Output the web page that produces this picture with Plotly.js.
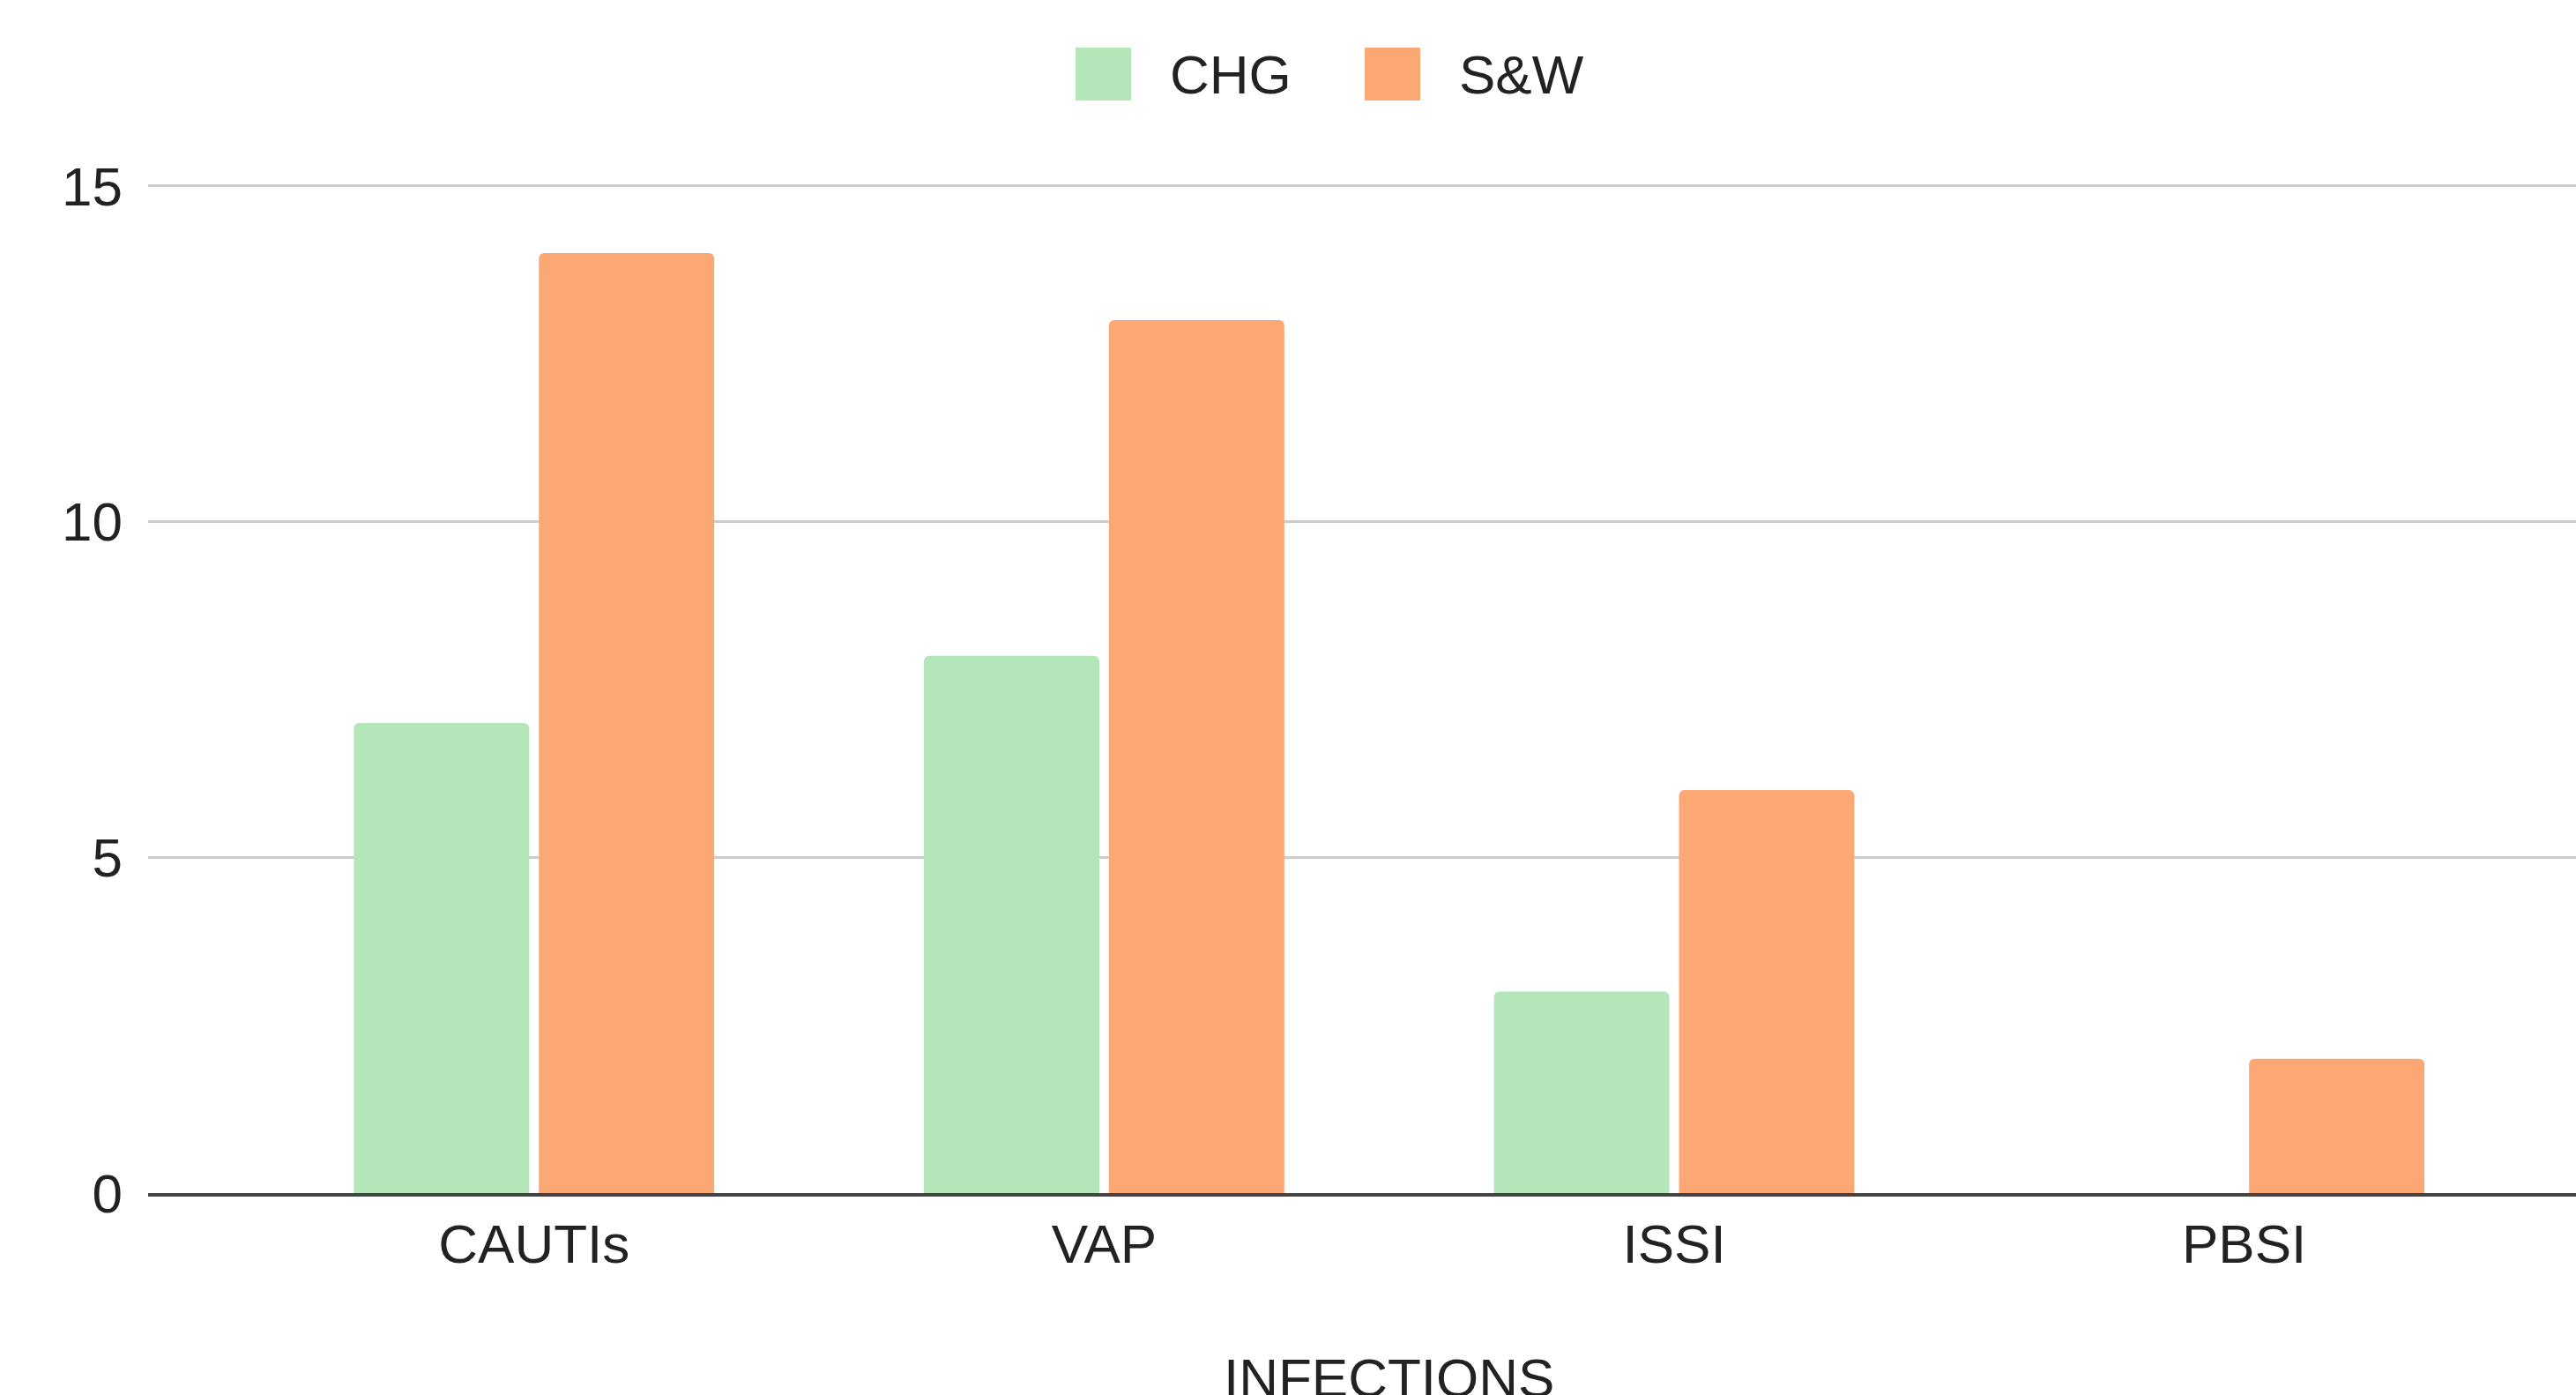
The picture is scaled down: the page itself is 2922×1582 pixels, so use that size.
<!DOCTYPE html>
<html>
<head>
<meta charset="utf-8">
<script src="https://cdn.plot.ly/plotly-3.0.1.min.js"></script>
<style>html,body{margin:0;padding:0;background:#fff;}#chart{width:2922px;height:1582px;}</style>
</head>
<body>
<div id="chart"></div>
<script>
// ---- data ----
const categories = ["CAUTIs", "VAP", "ISSI", "PBSI"];
const chgValues = [7, 8, 3, 0];
const swValues = [14, 13, 6, 2];
const seriesNames = ["CHG", "S&W"];
const seriesColors = ["#b3e6b9", "#fca874"];
const yTickVals = [0, 5, 10, 15];
const xAxisTitle = "INFECTIONS";

// ---- layout geometry (pixels) ----
const W = 2922, H = 1582;
const M = {l: 168, r: 0, t: 207, b: 229};
const plotW = W - M.l - M.r, plotH = H - M.t - M.b;
const px2x = p => (p - M.l) / plotW;
const px2y = p => (H - M.b - p) / plotH;

const FONT = "Liberation Sans, Arial, Helvetica, sans-serif";

const traces = [
  {type: "bar", name: seriesNames[0], x: categories, y: chgValues,
   marker: {color: seriesColors[0], line: {width: 0}}, showlegend: false, hoverinfo: "x+y+name"},
  {type: "bar", name: seriesNames[1], x: categories, y: swValues,
   marker: {color: seriesColors[1], line: {width: 0}}, showlegend: false, hoverinfo: "x+y+name"}
];

// custom legend (large swatches)
const legendSwatchX = [1220, 1548];
const legendTextX = [1325, 1653];
const legendCY = 84;
const shapes = [], annotations = [];
seriesNames.forEach((n, i) => {
  shapes.push({type: "rect", xref: "paper", yref: "paper",
    xsizemode: "pixel", ysizemode: "pixel",
    xanchor: px2x(legendSwatchX[i]), yanchor: px2y(legendCY),
    x0: 0, x1: 63, y0: -30, y1: 30,
    fillcolor: seriesColors[i], line: {width: 0}, layer: "above"});
  annotations.push({xref: "paper", yref: "paper", x: px2x(legendTextX[i]), y: px2y(legendCY),
    xanchor: "left", yanchor: "middle", text: n, showarrow: false,
    font: {family: FONT, size: 62, color: "#222222"}});
});
// x-axis title, placed as in the reference (partly cut at the bottom edge)
annotations.push({xref: "paper", yref: "paper", x: px2x(1575), y: px2y(1562),
  xanchor: "center", yanchor: "middle", text: xAxisTitle, showarrow: false,
  font: {family: FONT, size: 62, color: "#222222"}});

const layout = {
  width: W, height: H,
  margin: M,
  paper_bgcolor: "#ffffff", plot_bgcolor: "#ffffff",
  font: {family: FONT, size: 62, color: "#222222"},
  barmode: "group",
  bargap: 0.351,
  bargroupgap: 0.052,
  barcornerradius: 6,
  showlegend: false,
  xaxis: {
    type: "category",
    range: [-0.677, 3.582],
    showgrid: false,
    showline: true, linecolor: "#444444", linewidth: 4,
    ticks: "", ticklabelstandoff: 1,
    tickfont: {family: FONT, size: 62, color: "#222222"},
    zeroline: false, fixedrange: true
  },
  yaxis: {
    range: [0, 15.05],
    tickvals: yTickVals,
    ticktext: yTickVals.map(String),
    showgrid: true, gridcolor: "#cccccc", gridwidth: 3,
    zeroline: false, showline: false,
    ticks: "", ticklabelstandoff: 28,
    tickfont: {family: FONT, size: 62, color: "#222222"},
    fixedrange: true
  },
  shapes: shapes,
  annotations: annotations
};

Plotly.newPlot("chart", traces, layout, {displayModeBar: false, staticPlot: true});
</script>
</body>
</html>
